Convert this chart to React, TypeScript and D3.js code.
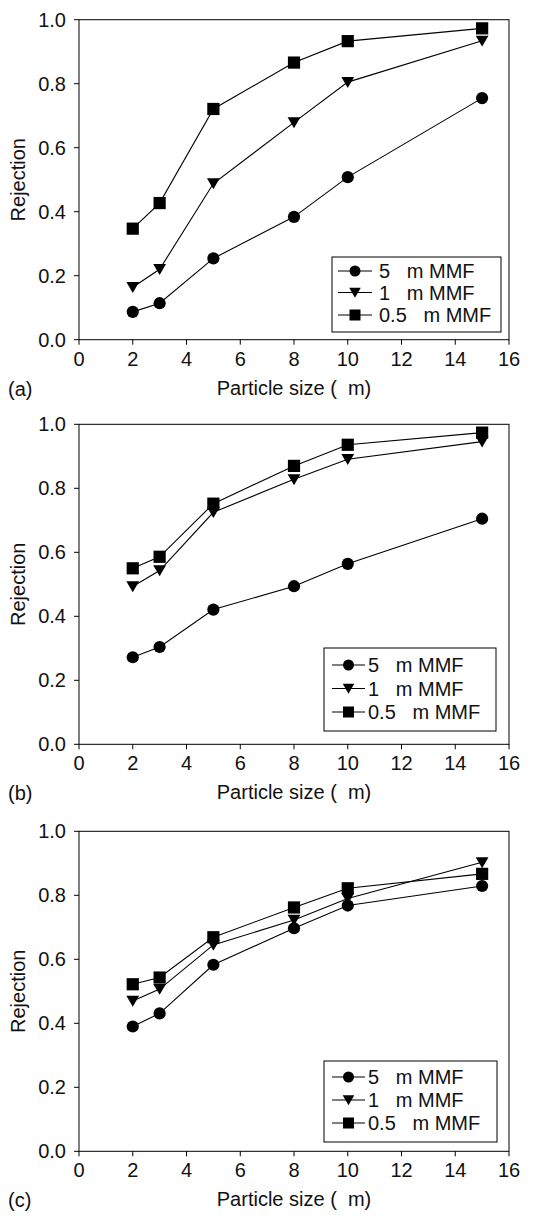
import React from "react";
import * as d3 from "d3";

const particleSizes = [2, 3, 5, 8, 10, 15];
const seriesNames = ["5   m MMF", "1   m MMF", "0.5   m MMF"];
const seriesShapes = ["circle", "triangle", "square"];

// panel (a)
const a5um = [0.087, 0.114, 0.254, 0.384, 0.508, 0.755];
const a1um = [0.164, 0.22, 0.488, 0.679, 0.805, 0.934];
const a05um = [0.347, 0.427, 0.721, 0.866, 0.933, 0.973];
// panel (b)
const b5um = [0.272, 0.304, 0.421, 0.494, 0.564, 0.705];
const b1um = [0.493, 0.543, 0.725, 0.828, 0.891, 0.946];
const b05um = [0.55, 0.586, 0.752, 0.87, 0.936, 0.974];
// panel (c)
const c5um = [0.39, 0.431, 0.583, 0.697, 0.768, 0.829];
const c1um = [0.47, 0.507, 0.645, 0.723, 0.79, 0.903];
const c05um = [0.522, 0.543, 0.669, 0.762, 0.822, 0.867];

const xTicks = [0, 2, 4, 6, 8, 10, 12, 14, 16];
const yTicks = [0, 0.2, 0.4, 0.6, 0.8, 1.0];
const panelLabels = ["(a)", "(b)", "(c)"];
const xTitle = "Particle size (  m)";
const yTitle = "Rejection";

const panels = [
  { label: panelLabels[0], series: [a5um, a1um, a05um], top: 19.7, legend: { x0: 332, x1: 501, y0: 257, y1: 332, rows: [271, 292.5, 315], l0: 338, l1: 372, tx: 379 } },
  { label: panelLabels[1], series: [b5um, b1um, b05um], top: 424.3, legend: { x0: 324, x1: 496, y0: 648, y1: 731, rows: [665, 688.5, 712], l0: 332, l1: 365, tx: 368 } },
  { label: panelLabels[2], series: [c5um, c1um, c05um], top: 831.3, legend: { x0: 324, x1: 497, y0: 1061, y1: 1142, rows: [1077, 1100, 1123], l0: 332, l1: 365, tx: 368 } },
];

const FONT = "'Liberation Sans', Arial, Helvetica, sans-serif";
const FS = 20;
const left = 79;
const right = 509;
const plotH = 320;

function Marker({ shape, x, y, s }: { shape: string; x: number; y: number; s: number }) {
  if (shape === "circle") return <circle cx={x} cy={y} r={s} fill="#000" />;
  if (shape === "square") return <rect x={x - s} y={y - s} width={2 * s} height={2 * s} fill="#000" />;
  const w = s * 1.05;
  const path = `M${x - w},${y - s * 0.85} L${x + w},${y - s * 0.85} L${x},${y + s * 0.95} Z`;
  return <path d={path} fill="#000" />;
}

function Panel({ p }: { p: (typeof panels)[number] }) {
  const x = d3.scaleLinear().domain([0, 16]).range([left, right]);
  const y = d3.scaleLinear().domain([0, 1]).range([p.top + plotH, p.top]);
  const line = d3
    .line<number>()
    .x((_, i) => x(particleSizes[i]))
    .y((d) => y(d));
  const fmt = d3.format(".1f");
  const bottom = y(0);
  const lg = p.legend;
  return (
    <g>
      <rect x={left} y={p.top} width={right - left} height={plotH} fill="none" stroke="#000" strokeWidth={1} />
      {xTicks.map((t) => (
        <g key={"x" + t}>
          <line x1={x(t)} x2={x(t)} y1={bottom} y2={bottom + 5} stroke="#000" />
          <text x={x(t)} y={bottom + 26} textAnchor="middle" fontSize={FS} fontFamily={FONT} fill="#111">
            {t}
          </text>
        </g>
      ))}
      {yTicks.map((t) => (
        <g key={"y" + t}>
          <line x1={left - 5} x2={left} y1={y(t)} y2={y(t)} stroke="#000" />
          <text x={left - 13} y={y(t) + 7} textAnchor="end" fontSize={FS} fontFamily={FONT} fill="#111">
            {fmt(t)}
          </text>
        </g>
      ))}
      <text
        transform={`translate(25,${(p.top + bottom) / 2}) rotate(-90)`}
        textAnchor="middle"
        fontSize={FS}
        fontFamily={FONT}
        fill="#111"
      >
        {yTitle}
      </text>
      <text x={(left + right) / 2} y={bottom + 55} textAnchor="middle" fontSize={FS} fontFamily={FONT} fill="#111" style={{ whiteSpace: "pre" }}>
        {xTitle}
      </text>
      <text x={8} y={bottom + 56} fontSize={FS} fontFamily={FONT} fill="#111">
        {p.label}
      </text>
      {p.series.map((vals, si) => (
        <g key={"s" + si}>
          <path d={line(vals) || ""} fill="none" stroke="#000" strokeWidth={1.1} />
          {vals.map((v, i) => (
            <Marker key={i} shape={seriesShapes[si]} x={x(particleSizes[i])} y={y(v)} s={6.1} />
          ))}
        </g>
      ))}
      <rect x={lg.x0} y={lg.y0} width={lg.x1 - lg.x0} height={lg.y1 - lg.y0} fill="#fff" stroke="#000" strokeWidth={1} />
      {seriesNames.map((name, si) => (
        <g key={"l" + si}>
          <line x1={lg.l0} x2={lg.l1} y1={lg.rows[si]} y2={lg.rows[si]} stroke="#000" strokeWidth={1.1} />
          <Marker shape={seriesShapes[si]} x={(lg.l0 + lg.l1) / 2} y={lg.rows[si]} s={5.5} />
          <text x={lg.tx} y={lg.rows[si] + 7} fontSize={FS} fontFamily={FONT} fill="#111" style={{ whiteSpace: "pre" }}>
            {name}
          </text>
        </g>
      ))}
    </g>
  );
}

export default function App() {
  return (
    <svg width={541} height={1219} style={{ position: "absolute", left: 0, top: 0, background: "#fff" }}>
      <rect width={541} height={1219} fill="#fff" />
      {panels.map((p, i) => (
        <Panel key={i} p={p} />
      ))}
    </svg>
  );
}
